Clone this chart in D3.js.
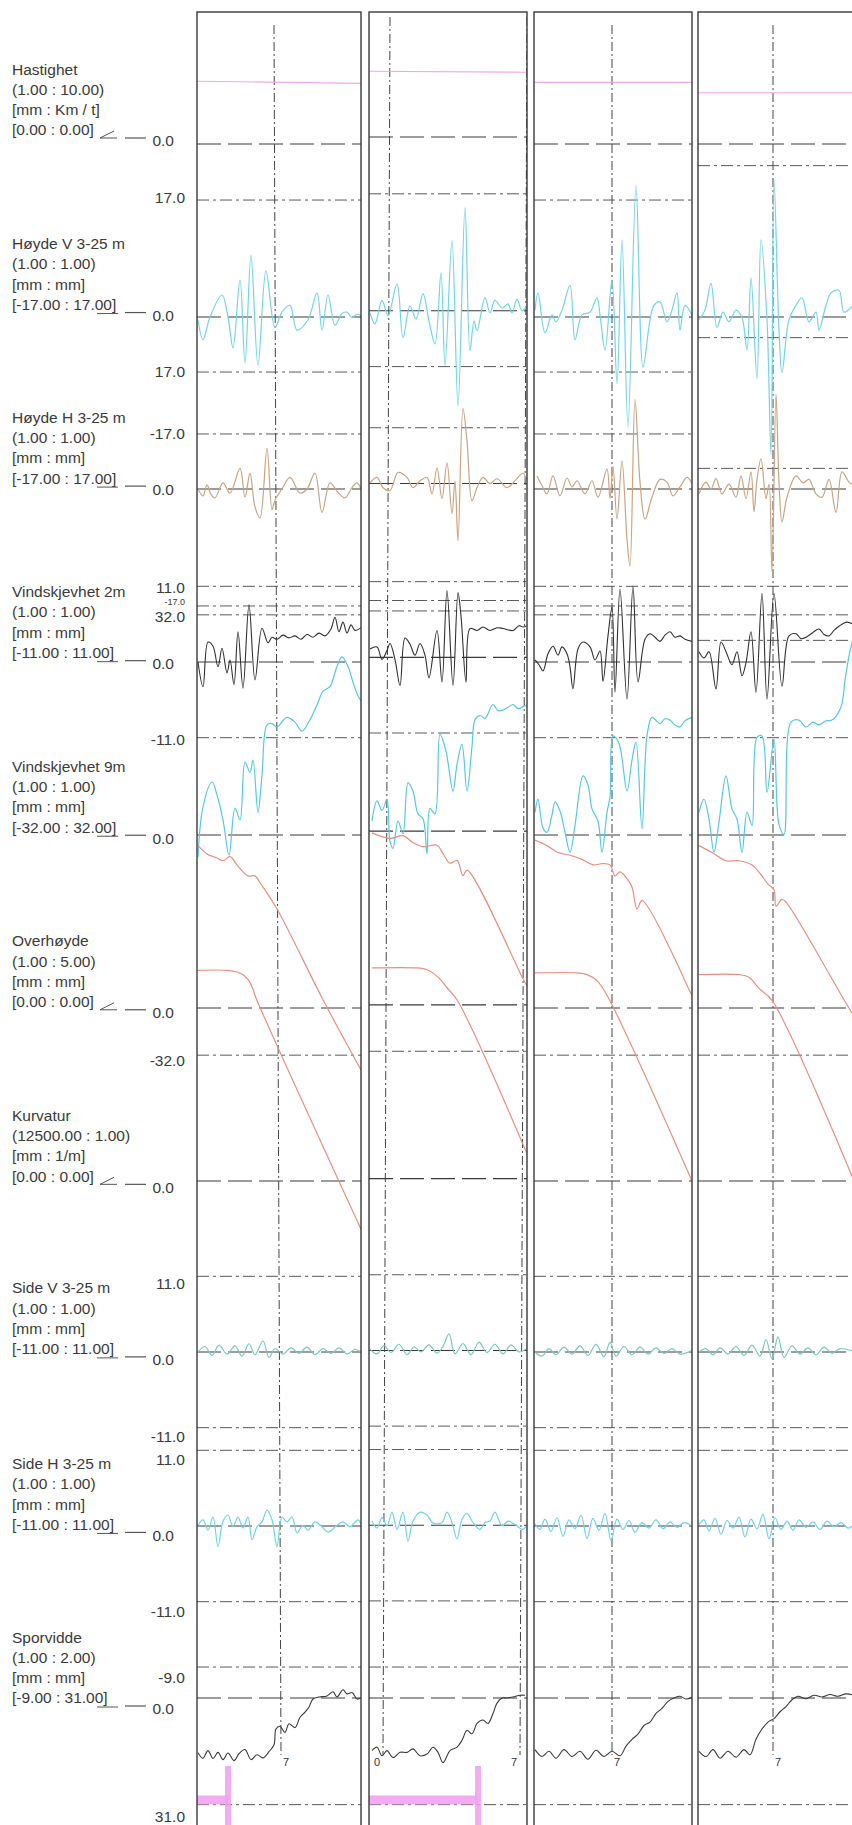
<!DOCTYPE html>
<html>
<head>
<meta charset="utf-8">
<script src="https://cdn.jsdelivr.net/npm/d3@7"></script>
<style>
  body { margin: 0; background: #fff; }
  svg { display: block; font-family: "Liberation Sans", Arial, sans-serif; }
</style>
</head>
<body>
<script>
// ---------- channel descriptions (left column) ----------
const chKeys   = ["speed","hoydeV","hoydeH","vind2","vind9","overh","kurv","sideV","sideH","sporv"];
const chNames  = ["Hastighet","Høyde V 3-25 m","Høyde H 3-25 m","Vindskjevhet 2m","Vindskjevhet 9m","Overhøyde","Kurvatur","Side V 3-25 m","Side H 3-25 m","Sporvidde"];
const chRatios = ["(1.00 : 10.00)","(1.00 : 1.00)","(1.00 : 1.00)","(1.00 : 1.00)","(1.00 : 1.00)","(1.00 : 5.00)","(12500.00 : 1.00)","(1.00 : 1.00)","(1.00 : 1.00)","(1.00 : 2.00)"];
const chUnits  = ["[mm : Km / t]","[mm : mm]","[mm : mm]","[mm : mm]","[mm : mm]","[mm : mm]","[mm : 1/m]","[mm : mm]","[mm : mm]","[mm : mm]"];
const chRanges = ["[0.00 : 0.00]","[-17.00 : 17.00]","[-17.00 : 17.00]","[-11.00 : 11.00]","[-32.00 : 32.00]","[0.00 : 0.00]","[0.00 : 0.00]","[-11.00 : 11.00]","[-11.00 : 11.00]","[-9.00 : 31.00]"];
// paper scale of each channel (value -> mm on paper)
const chPaperRatio = [0.1, 1, 1, 1, 1, 0.2, 12500, 1, 1, -0.5];

// limit values (dash-dot lines); panel 4 uses wider limits for Høyde
const limitsStd = {hoydeV:[17,-17], hoydeH:[17,-17], vind2:[11,-11], vind9:[32,-32], sideV:[11,-11], sideH:[11,-11], sporv:[-9,31]};
const limitsP4  = {hoydeV:[22,-22], hoydeH:[22,-22], vind2:[11,-11], vind9:[32,-32], sideV:[11,-11], sideH:[11,-11], sporv:[-9,31]};

// tick labels shown in the left column: [channel, value, text]
const tickLabels = [
  ["hoydeV",17,"17.0"],["hoydeH",17,"17.0"],["hoydeV",-17,"-17.0"],
  ["vind2",11,"11.0"],["hoydeH",-17,"-17.0"],["vind9",32,"32.0"],
  ["vind2",-11,"-11.0"],["vind9",-32,"-32.0"],
  ["sideV",11,"11.0"],["sideV",-11,"-11.0"],["sideH",11,"11.0"],["sideH",-11,"-11.0"],
  ["sporv",-9,"-9.0"],["sporv",31,"31.0"]
];

// ---------- measured traces: [position along panel (m), value] ----------
const speed1 = [[0,91.2],[164,88.2]];
const speed2 = [[0,95.6],[158,94.1]];
const speed3 = [[0,89.7],[158,89.7]];
const speed4 = [[0,74.5],[160,74.5]];

const hoydeV1 = [[1,-0.4],[6,-3.3],[13,0],[25,3.2],[31,0],[36,-4.5],[43,5.4],[48,-6.7],[54,9.0],[61,-7.0],[69,6.7],[78,-1.5],[85,0.7],[93,1.7],[100,-1.9],[111,-0.4],[120,3.5],[125,-1.9],[131,3.2],[138,-1.2],[145,0.5],[150,0.7],[155,-0.1],[160,0.4],[164,0.2]];
const hoydeV2 = [[1,-0.3],[6,-1.9],[13,1.5],[19,-0.7],[28,3.9],[34,-3.9],[41,0.7],[47,-1.2],[54,2.5],[60,-1.5],[66,-4.8],[72,5.5],[76,-8.0],[83,10.2],[89,-13.8],[96,15.0],[101,-5.8],[105,-1.5],[108,-2.9],[116,1.9],[121,-0.3],[126,1.5],[133,0.4],[139,1.0],[143,-0.3],[148,1.7],[153,0],[158,0.7]];
const hoydeV3 = [[1,1.0],[4,3.5],[11,-2.3],[18,0.3],[22,-0.7],[28,1.0],[36,4.6],[41,-3.3],[48,0.3],[56,0.7],[63,2.8],[66,0.3],[71,-4.8],[78,5.4],[83,-9.7],[88,11.2],[94,-16.0],[102,19.1],[109,-7.3],[116,-0.4],[120,1.7],[126,2.2],[133,-0.7],[138,1.0],[143,3.5],[146,-1.9],[151,1.7],[158,0.3]];
const hoydeV4 = [[1,-0.4],[7,1.0],[13,4.9],[19,-1.5],[25,0.7],[31,-0.7],[38,1.0],[44,-0.1],[49,-4.8],[53,5.7],[59,-9.0],[63,11.2],[69,-0.4],[73,-20.0],[76,19.9],[81,-1.9],[84,-8.1],[91,-0.4],[98,1.7],[104,2.8],[111,-0.7],[118,0.7],[121,-1.9],[128,1.7],[133,3.5],[141,3.9],[146,0.7],[155,1.7]];

const hoydeH1 = [[1,0],[6,-1.0],[10,0.6],[14,-0.8],[18,-1.3],[26,0.9],[33,-0.6],[43,3.0],[48,-1.2],[53,2.3],[58,-2.6],[63,-4.2],[70,5.9],[75,-3.0],[78,-1.6],[85,0],[93,1.7],[103,-0.6],[110,0],[118,2.3],[125,-3.4],[133,0.9],[140,-0.3],[148,-1.3],[155,0.2],[160,0.9],[164,0]];
const hoydeH2 = [[1,0.1],[8,0.9],[14,-0.6],[21,-1.0],[29,1.6],[38,0.9],[44,-0.6],[51,0.4],[58,0.9],[63,-1.5],[68,2.3],[73,-2.2],[78,3.0],[83,-4.4],[86,0.4],[89,-8.3],[94,10.9],[98,6.2],[103,-2.5],[108,-0.6],[114,0.9],[121,0],[128,0.7],[138,-0.6],[146,0.4],[154,1.5],[158,0.4]];
const hoydeH3 = [[3,1.9],[8,0.5],[13,-0.7],[19,1.9],[26,-1.0],[33,1.6],[38,0.3],[43,1.2],[51,-0.7],[58,1.2],[64,-1.2],[73,2.9],[76,-1.4],[79,3.3],[83,-4.4],[88,4.1],[93,-7.3],[96,-11.2],[101,13.0],[106,1.0],[111,-4.4],[118,-1.2],[126,1.4],[133,1.0],[139,-1.0],[146,0.3],[153,1.7],[158,0.8]];
const hoydeH4 = [[1,-0.7],[8,1.0],[13,0],[18,1.5],[24,-0.7],[31,0.7],[38,-1.2],[43,1.9],[48,-1.4],[53,2.5],[56,-3.3],[59,1.4],[63,4.4],[68,-1.4],[71,0.7],[74,-12.0],[78,13.8],[81,1.0],[84,-4.8],[89,-1.2],[98,1.9],[105,0.9],[111,1.4],[118,-0.7],[124,-1.2],[131,1.4],[138,-3.4],[144,2.5],[151,1.0],[156,0.5]];

const vind2_1 = [[1,0],[6,-3.6],[11,2.9],[16,2.3],[21,-0.7],[25,2.0],[30,-1.6],[33,0.3],[37,-3.3],[41,4.4],[46,-3.8],[52,8.3],[58,-2.6],[65,4.9],[71,2.8],[75,3.6],[80,3.3],[86,3.9],[92,3.5],[98,3.8],[104,3.3],[110,4.0],[116,3.6],[122,4.2],[128,3.8],[134,4.8],[138,6.5],[142,4.4],[146,5.8],[150,4.2],[154,5.4],[158,4.6],[164,5.0]];
const vind2_2 = [[1,1.2],[8,1.5],[13,-0.3],[18,1.0],[21,2.0],[26,-0.3],[31,-4.1],[36,2.8],[41,1.9],[46,0.3],[51,2.0],[56,0.3],[60,-3.0],[68,3.9],[73,-3.6],[78,9.7],[84,-4.1],[89,9.4],[92,6.0],[97,-3.6],[101,4.2],[108,3.9],[114,4.4],[121,3.9],[128,4.3],[134,4.2],[144,3.9],[150,4.6],[154,4.4],[158,4.6]];
const vind2_3 = [[1,0.3],[5,-0.4],[9,-1.3],[14,1.2],[19,2.3],[24,1.0],[28,2.2],[33,1.2],[36,-0.7],[39,-3.9],[44,1.9],[49,2.9],[56,2.2],[61,0.3],[66,1.6],[69,-2.8],[74,3.8],[78,8.0],[81,-4.4],[86,10.6],[93,-5.4],[99,11.0],[104,-2.9],[111,3.3],[116,4.1],[121,3.6],[126,3.0],[131,3.9],[136,4.4],[141,3.6],[146,3.8],[151,3.3],[158,3.0]];
const vind2_4 = [[1,1.5],[6,0.6],[11,1.5],[18,-3.9],[23,2.9],[28,1.5],[34,-0.4],[39,1.5],[44,-2.0],[48,-0.1],[53,4.4],[58,-4.4],[64,10.0],[69,-5.4],[76,10.0],[84,-3.5],[91,3.8],[98,4.1],[103,3.4],[108,3.6],[115,4.3],[121,4.8],[126,4.0],[131,3.8],[136,4.6],[141,5.2],[149,5.8],[156,5.4]];

const vind9_1 = [[1,-3.2],[6,4.1],[15,7.7],[20,5.8],[26,2.2],[32,-2.9],[38,3.9],[43,2.2],[48,10.6],[53,9.1],[56,10.9],[61,3.3],[65,8.7],[70,16.0],[75,16.2],[80,15.7],[90,17.1],[98,16.4],[105,15.1],[112,16.5],[120,18.9],[126,20.9],[133,21.6],[140,24.5],[145,25.9],[151,24.5],[156,22.2],[161,20.2],[164,19.5]];
const vind9_2 = [[3,1.5],[8,4.4],[13,3.0],[18,4.6],[21,-1.5],[24,-2.5],[29,1.5],[34,-0.4],[39,7.0],[44,5.8],[49,2.5],[54,1.8],[58,-3.3],[61,3.3],[66,2.5],[71,14.1],[77,11.6],[84,5.8],[88,9.7],[93,12.6],[98,5.8],[103,12.3],[106,16.2],[111,16.8],[116,16.4],[124,18.4],[129,17.5],[134,17.6],[139,18.0],[144,18.4],[149,17.8],[154,18.1],[158,18.3]];
const vind9_3 = [[1,3.3],[4,5.2],[9,1.0],[13,0.4],[18,2.9],[21,4.8],[26,3.5],[31,0.4],[36,-2.5],[41,1.4],[49,8.6],[54,7.3],[58,3.8],[64,2.0],[68,-2.5],[73,3.3],[76,5.5],[79,14.4],[85,13.3],[93,6.4],[98,10.9],[102,13.5],[108,0.9],[113,14.4],[118,17.1],[126,16.2],[131,16.9],[136,16.7],[141,16.0],[146,15.7],[151,16.6],[158,17.1]];
const vind9_4 = [[1,3.3],[6,5.2],[11,2.3],[16,-2.5],[21,1.9],[28,8.6],[34,3.8],[39,2.3],[44,-2.5],[49,3.3],[54,1.4],[59,14.2],[64,14.4],[69,6.2],[76,13.9],[81,1.5],[86,0.1],[93,16.4],[101,16.7],[108,15.7],[115,16.4],[121,16.0],[128,16.6],[134,16.7],[143,18.6],[147,22.5],[151,26.0],[155,28.5]];

const overh1 = [[1,118],[10,112],[20,109],[26,107],[33,110],[40,104],[51,96],[58,96],[63,91],[80,72],[126,6],[164,-45]];
const overh2 = [[3,125],[21,121],[34,123],[44,118],[54,115],[68,116],[74,110],[81,103],[88,105],[94,94],[98,98],[154,19],[158,14]];
const overh3 = [[1,122],[13,118],[24,113],[36,111],[48,108],[59,104],[69,105],[76,104],[81,96],[86,99],[93,94],[98,88],[103,72],[108,78],[156,12],[158,9]];
const overh4 = [[1,118],[14,113],[28,107],[41,107],[54,104],[64,96],[70,90],[76,86],[78,74],[84,79],[88,77],[146,6],[156,-6]];

const kurv1 = [[1,0.00245],[30,0.00245],[40,0.00243],[47,0.00239],[53,0.00231],[60,0.00210],[164,-0.00056]];
const kurv2 = [[3,0.00245],[48,0.00245],[58,0.00243],[64,0.00239],[71,0.00232],[78,0.00222],[88,0.00208],[158,0.00029]];
const kurv3 = [[1,0.00242],[43,0.00242],[53,0.00240],[63,0.00233],[73,0.00216],[158,0.00000]];
const kurv4 = [[1,0.00240],[41,0.00240],[51,0.00237],[61,0.00224],[74,0.00210],[156,0.00000]];

const sideV1 = [[1,0],[8,0.8],[15,-0.5],[22,1.0],[30,-0.3],[38,0.9],[45,-0.6],[52,1.2],[58,-0.4],[66,1.6],[72,-0.8],[78,0.5],[86,-0.3],[94,0.6],[102,-0.2],[110,0.7],[118,-0.4],[126,0.5],[134,-0.2],[142,0.6],[150,-0.3],[158,0.4],[164,0]];
const sideV2 = [[1,0.2],[8,-0.5],[15,0.7],[22,-0.3],[30,0.9],[38,-0.6],[45,0.5],[52,-0.2],[60,0.8],[68,-0.4],[74,0.6],[80,2.4],[86,-0.5],[94,1.0],[102,-0.6],[110,1.2],[118,-0.3],[126,0.9],[134,-0.5],[142,0.8],[150,-0.2],[158,0.3]];
const sideV3 = [[1,0],[8,-0.6],[15,0.5],[22,-0.4],[30,0.7],[38,-0.3],[46,0.9],[54,-0.5],[62,1.1],[70,-0.7],[76,1.4],[82,-0.6],[90,0.8],[98,-0.4],[106,0.7],[114,-0.3],[122,0.6],[130,-0.2],[138,0.5],[146,-0.3],[158,0.2]];
const sideV4 = [[1,0],[8,0.5],[15,-0.4],[22,0.6],[30,-0.3],[38,0.8],[46,-0.5],[54,1.0],[62,-0.6],[68,1.8],[74,-1.0],[80,2.2],[86,-0.8],[94,0.9],[102,-0.3],[110,0.6],[118,-0.4],[126,0.7],[134,-0.2],[142,0.5],[156,0.1]];

const sideH1 = [[1,0.1],[6,0.9],[11,-0.6],[16,1.3],[21,-3.0],[26,0.7],[31,1.6],[36,-0.1],[41,1.3],[46,-0.3],[51,1.3],[55,-2.0],[60,-0.1],[65,0.6],[70,2.3],[75,0.9],[80,-3.0],[85,1.3],[90,0.6],[95,1.3],[100,-1.0],[106,0.1],[111,-0.6],[118,0.6],[125,-0.1],[131,-0.9],[140,0.1],[146,0.6],[153,-0.1],[161,0.9],[164,0.3]];
const sideH2 = [[3,0.6],[8,-0.4],[13,1.1],[18,-0.1],[23,1.9],[28,-0.6],[34,1.9],[39,-2.3],[44,0.6],[51,1.9],[58,1.5],[64,0.3],[73,0.4],[78,1.9],[83,0.4],[88,-2.0],[93,0.9],[98,1.7],[104,0.4],[111,-0.6],[116,0.4],[121,0.6],[126,1.9],[133,-0.1],[139,0.6],[146,0.1],[154,-0.6],[158,0]];
const sideH3 = [[1,0.3],[6,-0.5],[11,1.0],[17,-0.8],[23,1.2],[29,-1.5],[35,0.9],[41,-0.4],[47,1.6],[53,-1.8],[59,1.1],[65,-0.6],[71,1.8],[77,-2.1],[83,1.0],[89,-0.5],[95,0.8],[101,-0.9],[108,0.5],[115,-0.3],[122,0.9],[129,-0.4],[136,0.6],[143,-0.2],[150,0.5],[158,0]];
const sideH4 = [[1,0.2],[6,0.9],[11,-0.7],[17,1.1],[23,-1.2],[29,0.8],[35,-0.3],[41,1.3],[47,-1.6],[53,1.0],[59,-0.4],[65,1.7],[71,-1.9],[77,1.2],[83,-0.5],[89,0.7],[95,-0.6],[101,0.9],[108,-0.2],[115,0.6],[122,-0.5],[129,0.7],[136,-0.1],[143,0.5],[150,-0.3],[156,0.2]];

const sporv1 = [[1,15.9],[6,17.5],[11,15.3],[16,17.6],[21,15.8],[26,17.9],[31,16.0],[37,18.2],[42,16.2],[48,15.0],[54,17.9],[60,16.5],[66,17.4],[72,15.6],[77,13.6],[79,9.0],[83,8.2],[88,10.0],[92,7.5],[98,8.6],[103,5.6],[108,4.1],[112,2.6],[116,0.3],[122,-0.3],[130,-0.6],[136,-1.8],[140,-0.3],[146,-2.4],[150,-1.2],[155,-1.6],[160,0.3],[164,0]];
const sporv2 = [[3,15.3],[8,14.3],[13,16.8],[18,15.3],[24,17.3],[31,15.8],[38,15.8],[44,14.8],[51,16.8],[58,16.3],[64,14.3],[69,15.8],[74,18.8],[81,15.3],[88,14.3],[93,12.3],[98,9.4],[103,10.4],[108,7.4],[114,6.4],[119,7.4],[124,4.5],[128,1.5],[133,0],[138,0],[144,-0.3],[151,-0.8],[156,-0.8]];
const sporv3 = [[1,15],[8,17],[15,15.5],[22,17.5],[30,15],[38,17],[46,15.5],[54,17.8],[62,15.2],[70,17],[78,15.5],[86,16.8],[92,14],[98,12],[104,10.5],[110,8],[116,7],[122,4.5],[128,3],[134,1],[140,0],[146,-0.5],[152,0.3],[158,-0.2]];
const sporv4 = [[1,15.5],[8,17],[15,15],[22,17.5],[30,15.5],[38,17.2],[46,15],[52,16.5],[58,12],[64,9],[70,7],[76,6],[82,4],[88,2.5],[94,0.5],[100,-0.5],[108,0.2],[116,-0.8],[124,-0.3],[132,-1],[140,-0.5],[148,-1.2],[156,-0.8]];

// km-post markers [position, label, label side] and pink event bars [start, end]
const posts1 = [[77,"7","right"]];
const posts2 = [[21,"0","left"],[158,"7","left"]];
const posts3 = [[78,"7","right"]];
const posts4 = [[75,"7","right"]];
const event1 = [0, 31];
const event2 = [0, 109];

// ---------- layout ----------
const W = 852, H = 1825;
const zeroY = {speed:144, hoydeV:317, hoydeH:489, vind2:662, vind9:835, overh:1008, kurv:1181, sideV:1352, sideH:1526, sporv:1698};
const paperPx = 6.88;                 // px per paper mm
const labelSkew = y => -3 + 14 * (y - 144) / 1554;
const panels = [
  {x0:197, x1:361, dyTop:0,  dyBot:0, skew:7,  markTop:[25]},
  {x0:369, x1:527, dyTop:-7, dyBot:0, skew:-7, markTop:[17, 17]},
  {x0:534, x1:692, dyTop:0,  dyBot:0, skew:0,  markTop:[25]},
  {x0:698, x1:862, dyTop:0,  dyBot:0, skew:0,  markTop:[25]}
];
const colors = {speed:"#f0a8ea", hoydeV:"#72d4e8", hoydeH:"#c9a482", vind2:"#303030", vind9:"#55c8e2",
                overh:"#e8907f", kurv:"#e8907f", sideV:"#78c9c0", sideH:"#6ed3ea", sporv:"#3a3a3a"};

const traces = [
  {speed:speed1, hoydeV:hoydeV1, hoydeH:hoydeH1, vind2:vind2_1, vind9:vind9_1, overh:overh1, kurv:kurv1, sideV:sideV1, sideH:sideH1, sporv:sporv1},
  {speed:speed2, hoydeV:hoydeV2, hoydeH:hoydeH2, vind2:vind2_2, vind9:vind9_2, overh:overh2, kurv:kurv2, sideV:sideV2, sideH:sideH2, sporv:sporv2},
  {speed:speed3, hoydeV:hoydeV3, hoydeH:hoydeH3, vind2:vind2_3, vind9:vind9_3, overh:overh3, kurv:kurv3, sideV:sideV3, sideH:sideH3, sporv:sporv3},
  {speed:speed4, hoydeV:hoydeV4, hoydeH:hoydeH4, vind2:vind2_4, vind9:vind9_4, overh:overh4, kurv:kurv4, sideV:sideV4, sideH:sideH4, sporv:sporv4}
];
const limits = [limitsStd, limitsStd, limitsStd, limitsP4];
const posts = [posts1, posts2, posts3, posts4];
const events = [event1, event2, null, null];

const svg = d3.select("body").append("svg")
    .attr("width", W)
    .attr("height", H)
    .attr("viewBox", "0 0 " + W + " " + H);

// y scale of a channel (value -> px), shifted per panel
function yScale(c, dy) {
  const i = chKeys.indexOf(c);
  const z = zeroY[c] + dy;
  return d3.scaleLinear().domain([0, 1]).range([z, z - paperPx * chPaperRatio[i]]);
}

// ---------- left column ----------
const left = svg.append("g").attr("class", "labels").style("fill", "#3a3a3a").style("font-size", "15.5px");

chKeys.forEach((c, i) => {
  const zl = zeroY[c] + labelSkew(zeroY[c]);
  const lines = [chNames[i], chRatios[i], chUnits[i], chRanges[i]];
  lines.forEach((t, j) => {
    left.append("text")
      .attr("x", 12)
      .attr("y", zl - 11 - (3 - j) * 20.3)
      .attr("dy", "0.35em")
      .text(t);
  });
  left.append("text")
    .attr("x", 174)
    .attr("y", zl)
    .attr("dy", "0.35em")
    .attr("text-anchor", "end")
    .text("0.0");

  // small pointer marks next to "0.0"
  const my = zl - 3;
  if (chRanges[i] === "[0.00 : 0.00]") {
    left.append("path")
      .attr("d", "M114," + (my - 7) + " L100," + my + " L117," + my)
      .attr("fill", "none").attr("stroke", "#555").attr("stroke-width", 1);
  } else {
    left.append("line").attr("x1", 97).attr("x2", 118).attr("y1", my + 1).attr("y2", my + 1)
      .attr("stroke", "#555").attr("stroke-width", 1);
  }
  left.append("line").attr("x1", 125).attr("x2", 146).attr("y1", my).attr("y2", my)
    .attr("stroke", "#555").attr("stroke-width", 1.2);
});

tickLabels.forEach(t => {
  const y = yScale(t[0], 0)(t[1]);
  // the squeezed "-17.0" between 11.0 and 32.0 is printed smaller
  const squeezed = t[0] === "hoydeH" && t[1] < 0;
  left.append("text")
    .attr("x", 185)
    .attr("y", y + labelSkew(y) - (squeezed ? 5 : 0))
    .attr("dy", "0.35em")
    .attr("text-anchor", "end")
    .style("font-size", squeezed ? "9px" : null)
    .text(t[2]);
});

// ---------- panels ----------
panels.forEach((p, pi) => {
  const g = svg.append("g").attr("class", "panel" + (pi + 1));
  const clipId = "clip" + pi;
  svg.append("clipPath").attr("id", clipId)
    .append("rect").attr("x", p.x0).attr("y", 12).attr("width", p.x1 - p.x0).attr("height", H);

  const x = d3.scaleLinear().domain([0, p.x1 - p.x0]).range([p.x0, p.x1]);
  const shift = y => p.dyTop + (p.dyBot - p.dyTop) * (y - 144) / 1554;
  const inner = g.append("g").attr("clip-path", "url(#" + clipId + ")");

  // reference lines
  chKeys.forEach(c => {
    const y = yScale(c, shift(zeroY[c]));
    inner.append("line")
      .attr("x1", p.x0).attr("x2", p.x1)
      .attr("y1", y(0)).attr("y2", y(0))
      .attr("stroke", "#3a3a3a").attr("stroke-width", 1.1)
      .attr("stroke-dasharray", "24,7");
    (limits[pi][c] || []).forEach(v => {
      inner.append("line")
        .attr("x1", p.x0).attr("x2", p.x1)
        .attr("y1", y(v)).attr("y2", y(v))
        .attr("stroke", "#5a5a5a").attr("stroke-width", 1)
        .attr("stroke-dasharray", "12,4,3,4");
    });
  });

  // km posts
  posts[pi].forEach((d, k) => {
    const xb = x(d[0]) + p.skew;
    inner.append("line")
      .attr("x1", x(d[0])).attr("x2", xb)
      .attr("y1", p.markTop[k]).attr("y2", 1755)
      .attr("stroke", "#444").attr("stroke-width", 1)
      .attr("stroke-dasharray", "9,3,2,3");
    inner.append("text")
      .attr("x", d[2] === "left" ? xb - 3 : xb + 2)
      .attr("y", 1766)
      .attr("text-anchor", d[2] === "left" ? "end" : "start")
      .style("font-size", "11px").style("fill", "#333")
      .text(d[1]);
  });

  // pink event bar
  if (events[pi]) {
    const e = events[pi];
    inner.append("line")
      .attr("x1", x(e[0])).attr("x2", x(e[1]))
      .attr("y1", 1800).attr("y2", 1800)
      .attr("stroke", "#f29ef0").attr("stroke-width", 9).attr("opacity", 0.85);
    inner.append("line")
      .attr("x1", x(e[1])).attr("x2", x(e[1]))
      .attr("y1", 1766).attr("y2", H)
      .attr("stroke", "#f29ef0").attr("stroke-width", 6).attr("opacity", 0.85);
  }

  // traces
  chKeys.forEach(c => {
    const y = yScale(c, shift(zeroY[c]));
    const line = d3.line()
      .x(d => x(d[0]))
      .y(d => y(d[1]))
      .curve(d3.curveCatmullRom.alpha(0.5));
    inner.append("path")
      .datum(traces[pi][c])
      .attr("d", line)
      .attr("fill", "none")
      .attr("stroke", colors[c])
      .attr("stroke-width", c === "vind2" || c === "sporv" ? 1.1 : 1.2)
      .attr("stroke-linejoin", "round");
  });

  // frame
  g.append("rect")
    .attr("x", p.x0).attr("y", 12)
    .attr("width", p.x1 - p.x0).attr("height", H)
    .attr("fill", "none")
    .attr("stroke", "#3a3a3a").attr("stroke-width", 1.4);
});
</script>
</body>
</html>
